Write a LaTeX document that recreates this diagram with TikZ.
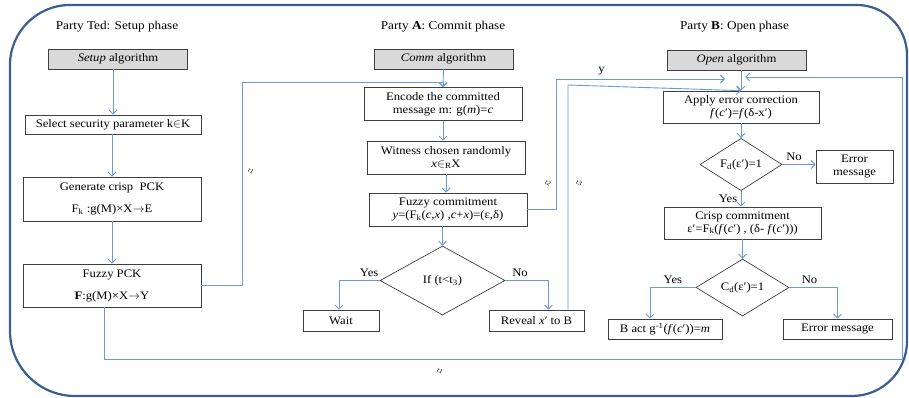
\documentclass[tikz,border=0pt]{standalone}
\usepackage{fontspec}
\setmainfont{Liberation Serif}[FakeStretch=1.1]
\usepackage{amsmath}
\usetikzlibrary{positioning, calc, arrows.meta, shapes.geometric}

\begin{document}
\begin{tikzpicture}[
  x=1pt, y=-1pt,
  font=\fontsize{11.5}{13}\selectfont,
  >={Straight Barb[length=4pt,width=8pt]},
  box/.style={draw=cBox, line width=0.7pt, fill=white, inner sep=0pt, align=center},
  algbox/.style={box, fill=cAlg},
  choice/.style={diamond, draw=cBox, line width=0.7pt, fill=white, inner sep=0pt},
  flow/.style={draw=cFlow, line width=0.9pt},
  phase/.style={font=\fontsize{12}{14}\selectfont},
  tlab/.style={font=\fontsize{6.5}{7}\selectfont, rotate=-30, inner sep=0pt},
]
\definecolor{cBorder}{HTML}{3A5F8F}   % outer frame
\definecolor{cFlow}{HTML}{6B9BD2}     % connectors
\definecolor{cBox}{HTML}{3F3F3F}      % box outlines
\definecolor{cAlg}{HTML}{D9D9D9}      % algorithm header fill

\useasboundingbox (0,0) rectangle (909,398);

% =====================================================================
% Outer frame (four corners, each with its own radius)
% =====================================================================
\draw[cBorder, line width=2.2pt]
  (70,5) -- (857,5)
  .. controls (884.6,5) and (907,27.4) .. (907,55)
  -- (907,341)
  .. controls (907,371.4) and (882.4,396) .. (852,396)
  -- (75,396)
  .. controls (39.1,396) and (10,366.9) .. (10,331)
  -- (10,65)
  .. controls (10,31.9) and (36.9,5) .. (70,5) -- cycle;

% =====================================================================
% Party Ted -- setup phase
% =====================================================================
\node[phase] (tedT) at (117,27) {Party Ted: Setup phase};
\node[algbox, minimum width=139, minimum height=20] (setupA) at (118,59)
  {\textit{Setup} algorithm};
\node[box, minimum width=176, minimum height=19] (selK) at (113,124.5)
  {Select security parameter k$\in$K};
\node[box, minimum width=178, minimum height=44] (genPCK) at (112,199)
  {Generate crisp\ \ PCK\\[9pt] F\textsubscript{k} :g(M)×X$\rightarrow$E};
\node[box, minimum width=178, minimum height=43] (fuzPCK) at (112,285.5)
  {Fuzzy PCK\\[9pt] \textbf{F}:g(M)×X$\rightarrow$Y};

\draw[flow, ->] (setupA.south -| selK.north) -- (selK.north);
\draw[flow, ->] (selK.south -| genPCK.north) -- (genPCK.north);
\draw[flow, ->] (genPCK.south) -- (fuzPCK.north);

% =====================================================================
% Party A -- commit phase
% =====================================================================
\node[phase] (aT) at (443,27) {Party \textbf{A}: Commit phase};
\node[algbox, minimum width=139, minimum height=20] (commA) at (443.5,59)
  {\textit{Comm} algorithm};
\node[box, minimum width=158, minimum height=33] (encM) at (443,104)
  {Encode the committed\\ message m: g(\textit{m})=\textit{c}};
\node[box, minimum width=158, minimum height=33] (witX) at (446,157.5)
  {Witness chosen randomly\\ \textit{x}$\in$\textsubscript{R}X};
\node[box, minimum width=158, minimum height=33] (fuzC) at (448,209.5)
  {Fuzzy commitment\\ \textit{y}=(F\textsubscript{k}(\textit{c},\textit{x}) ,\textit{c}+\textit{x})=(ε,δ)};
\node[choice, minimum width=125, minimum height=69] (ifT) at (442.5,280.5)
  {If (t<t\textsubscript{3})};
\node[box, minimum width=76, minimum height=21] (waitN) at (341,320.5) {Wait};
\node[box, minimum width=95, minimum height=21] (revX) at (536.5,320.5)
  {Reveal \textit{x}′ to B};

\draw[flow, ->] (commA.south) -- (encM.north);
\draw[flow, ->] (encM.south) -- (encM.south |- witX.north);
\draw[flow, ->] (witX.south) -- (witX.south |- fuzC.north);
\draw[flow, ->] (fuzC.south -| ifT.north) -- (ifT.north);
\draw[flow, ->] (ifT.west) -| ([xshift=-2pt]waitN.north)
  node[pos=0.13, above] {Yes};
\draw[flow, ->] (ifT.east) -| ([xshift=12pt]revX.north)
  node[pos=0.17, above] {No};

% =====================================================================
% Party B -- open phase
% =====================================================================
\node[phase] (bT) at (734.5,27) {Party \textbf{B}: Open phase};
\node[algbox, minimum width=139, minimum height=20] (openA) at (736.5,60)
  {\textit{Open} algorithm};
\node[box, minimum width=156, minimum height=32] (applyE) at (741,107)
  {Apply error correction\\ \textit{f}(\textit{c}′)=\textit{f}(δ-x′)};
\node[choice, minimum width=82, minimum height=43] (fdD) at (741,164.5)
  {F\textsubscript{d}(ε′)=1};
\node[box, minimum width=77, minimum height=33] (errA) at (854.5,166.5)
  {Error\\ message};
\node[box, minimum width=157, minimum height=32] (crispC) at (742.5,223)
  {Crisp commitment\\ ε′=F\textsubscript{k}(\textit{f}(\textit{c}′) , (δ- \textit{f}(\textit{c}′)))};
\node[choice, minimum width=93, minimum height=57] (cdD) at (742.5,287.5)
  {C\textsubscript{d}(ε′)=1};
\node[box, minimum width=114, minimum height=20] (bAct) at (665,329)
  {B act g\textsuperscript{-1}(\textit{f}(\textit{c}′))=\textit{m}};
\node[box, minimum width=109, minimum height=20] (errB) at (837.5,329)
  {Error message};

\draw[flow, ->] (openA.south -| applyE.north) -- (applyE.north);
\draw[flow, ->] (applyE.south) -- (fdD.north);
\draw[flow, ->] (fdD.east) -- (fdD.east -| errA.west)
  node[pos=0.35, above] {No};
\draw[flow, ->] (fdD.south) -- (fdD.south |- crispC.north)
  node[midway, left] {Yes};
\draw[flow, ->] (crispC.south) -- (cdD.north);
\draw[flow, ->] (cdD.west) -| ([xshift=-15pt]bAct.north)
  node[pos=0.25, above] {Yes};
\draw[flow, ->] (cdD.east) -| (errB.north)
  node[pos=0.21, above] {No};

% =====================================================================
% Messages between the parties
% =====================================================================
\coordinate (kTed) at (242,82);
\coordinate (kY) at (556,79);
\coordinate (yEnd) at (725,79);
\coordinate (kRev) at (568,85);
\coordinate (kLoopA) at (104,359);
\coordinate (kLoopB) at (902,77);
\coordinate (loopEnd) at (745,77);

% Ted -> A (t1)
\draw[flow, ->] (fuzPCK.east) -| (kTed) -| (encM.north);
\node[tlab] (tA) at (251,171) {t1};

% A -> B : commitment y (t2)
\draw[flow, ->] (fuzC.east) -| (kY) -- (yEnd)
  node[pos=0.27, above] {y};
\node[tlab] (tB) at (548,183) {t2};

% A -> B : witness x' (t3)
\draw[flow, ->] (revX.north -| kRev) -- (kRev) -- (applyE.north);
\node[tlab] (tC) at (579,183) {t3};

% Ted -> B (t1)
\draw[flow, ->] (fuzPCK.south -| kLoopA) -- (kLoopA) -| (kLoopB) -- (loopEnd);
\node[tlab] (tD) at (440,371) {t1};

\end{tikzpicture}
\end{document}
